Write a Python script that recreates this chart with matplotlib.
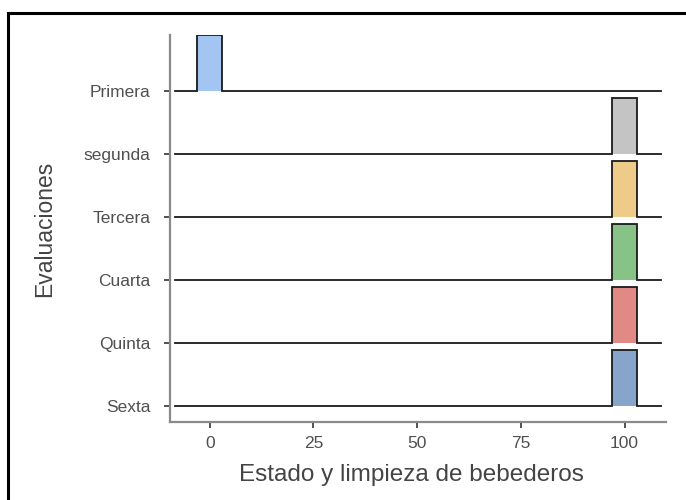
import matplotlib.pyplot as plt
from matplotlib.patches import Rectangle

# Datos: cada evaluacion tiene todas las observaciones en un mismo valor
evaluaciones = ["Primera", "segunda", "Tercera", "Cuarta", "Quinta", "Sexta"]
puntaje = [0, 100, 100, 100, 100, 100]
colores = ["#a4c4f2", "#c4c4c4", "#efcb8a", "#87c387", "#e08985", "#87a5cb"]
x_ticks = [0, 25, 50, 75, 100]

ancho_bin = 6
altura = 0.89
x_min, x_max = -8.3, 108.8

plt.rcParams['font.family'] = ['Liberation Sans', 'DejaVu Sans']

fig = plt.figure(figsize=(6.86, 5.0), dpi=100)
ax = fig.add_axes([170 / 686, 1 - 422 / 500, (666 - 170) / 686, (422 - 35) / 500])

n = len(evaluaciones)
for i, (nombre, valor, color) in enumerate(zip(evaluaciones, puntaje, colores)):
    y0 = n - 1 - i
    izq, der = valor - ancho_bin / 2, valor + ancho_bin / 2
    xs = [x_min, izq, izq, der, der, x_max]
    ys = [y0, y0, y0 + altura, y0 + altura, y0, y0]
    ax.fill_between([izq, der], y0, y0 + altura, color=color, lw=0, zorder=2 + i)
    ax.plot(xs, ys, color="#1a1a1a", lw=1.3, zorder=3 + i, solid_joinstyle="miter")

ax.set_xlim(-9.6, 110)
ax.set_ylim(-0.254, 5.89)
ax.set_xticks(x_ticks)
ax.set_yticks(range(n))
ax.set_yticklabels(evaluaciones[::-1])

for lado in ["top", "right"]:
    ax.spines[lado].set_visible(False)
for lado in ["left", "bottom"]:
    ax.spines[lado].set_color("#8a8a8a")
    ax.spines[lado].set_linewidth(1.6)

ax.tick_params(axis="both", colors="#333333", length=4, width=1.2,
               labelsize=12.5, labelcolor="#505050")
ax.tick_params(axis="y", pad=10)
ax.tick_params(axis="x", pad=6)

ax.set_xlabel("Estado y limpieza de bebederos", fontsize=17.5, color="#444444")
ax.set_ylabel("Evaluaciones", fontsize=16.5, color="#444444")
ax.xaxis.set_label_coords(0.487, -0.137)
ax.yaxis.set_label_coords(-0.252, 0.5)
ax.xaxis.label.set_va("center")
ax.yaxis.label.set_va("center")

# Marco negro alrededor de la figura (cortado a la derecha y abajo)
marco = Rectangle((8 / 686, -0.1), 1.0, 1 - 13 / 500 + 0.1, transform=fig.transFigure,
                  fill=False, edgecolor="black", lw=2.2, clip_on=False)
fig.patches.append(marco)

fig.savefig("out.png", dpi=100)
